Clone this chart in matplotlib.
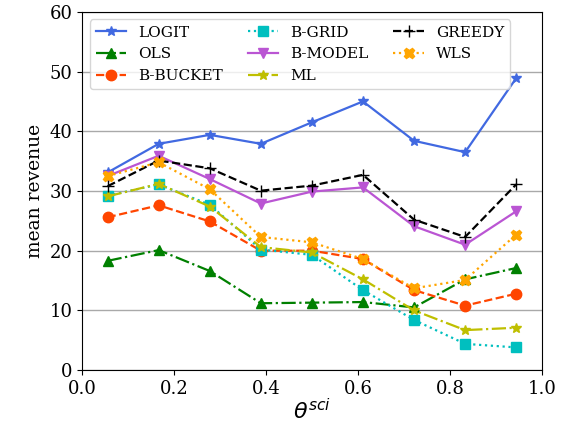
import matplotlib
matplotlib.use("Agg")
import matplotlib.pyplot as plt

plt.rcParams['font.family'] = ['DejaVu Serif']
plt.rcParams['mathtext.fontset'] = 'dejavusans'

theta = [0.0556, 0.1667, 0.2778, 0.3889, 0.5, 0.6111, 0.7222, 0.8333, 0.9444]

logit = [33.1, 37.9, 39.4, 37.9, 41.5, 45.0, 38.4, 36.5, 48.9]
ols = [18.3, 20.1, 16.6, 11.2, 11.3, 11.4, 10.5, 15.2, 17.1]
b_bucket = [25.6, 27.6, 24.9, 20.0, 20.0, 18.6, 13.4, 10.8, 12.8]
b_grid = [29.2, 31.1, 27.7, 20.2, 19.3, 13.4, 8.4, 4.4, 3.8]
b_model = [32.5, 35.9, 32.0, 27.9, 29.9, 30.6, 24.1, 21.0, 26.6]
ml = [29.1, 31.2, 27.4, 20.6, 19.7, 15.2, 10.0, 6.7, 7.1]
greedy = [30.8, 35.1, 33.8, 30.05, 30.9, 32.7, 25.2, 22.3, 31.1]
wls = [32.5, 34.8, 30.3, 22.3, 21.4, 18.6, 13.7, 15.1, 22.7]

fig = plt.figure(figsize=(5.62, 4.23), dpi=100)
ax = fig.add_axes([0.146, 0.125, 0.818, 0.847])

ax.plot(theta, logit, color='royalblue', ls='-', marker='*', ms=7.5, lw=1.6, label='LOGIT')
ax.plot(theta, ols, color='green', ls='-.', marker='^', ms=7.5, lw=1.6, label='OLS')
ax.plot(theta, b_bucket, color='orangered', ls='--', marker='o', ms=7.5, lw=1.6, label='B-BUCKET')
ax.plot(theta, b_grid, color='c', ls=':', marker='s', ms=7.5, lw=1.6, label='B-GRID')
ax.plot(theta, b_model, color='mediumorchid', ls='-', marker='v', ms=7.5, lw=1.6, label='B-MODEL')
ax.plot(theta, ml, color='y', ls='-.', marker='*', ms=7.5, lw=1.6, label='ML')
ax.plot(theta, greedy, color='k', ls='--', marker='+', ms=9, lw=1.6, label='GREEDY')
ax.plot(theta, wls, color='orange', ls=':', marker='X', ms=7.5, lw=1.6, label='WLS')

ax.set_xlim(0, 1)
ax.set_ylim(0, 60)
ax.yaxis.grid(True, color='darkgrey', lw=1)
ax.tick_params(labelsize=13)
ax.set_xlabel(r'$\theta^{sci}$', fontsize=16, labelpad=1)
ax.set_ylabel('mean revenue', fontsize=13.5)
ax.legend(loc='upper left', ncol=3, fontsize=11, handlelength=2, columnspacing=1.6,
          borderaxespad=0.5)

fig.savefig('out.png', dpi=100)
